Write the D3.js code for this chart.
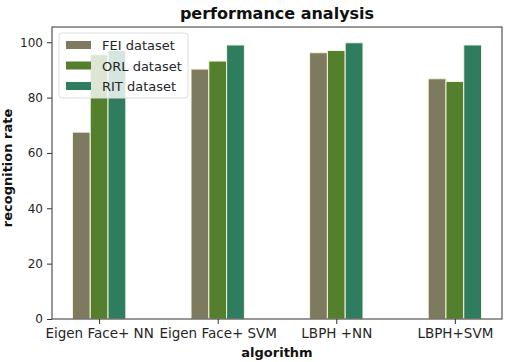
<!DOCTYPE html>
<html>
<head>
<meta charset="utf-8">
<script src="https://cdn.jsdelivr.net/npm/d3@7"></script>
<style>
body { margin: 0; background: #fff; }
text { font-family: "DejaVu Sans", sans-serif; }
</style>
</head>
<body>
<div id="chart"></div>
<script>
// chart data
var algorithms = ["Eigen Face+ NN", "Eigen Face+ SVM", "LBPH +NN", "LBPH+SVM"];
var seriesNames = ["FEI dataset", "ORL dataset", "RIT dataset"];
var feiValues = [67.5, 90.3, 96.2, 86.8];
var orlValues = [95.5, 93.2, 97.0, 85.8];
var ritValues = [97.0, 99.0, 99.8, 99.0];
var yTicks = [0, 20, 40, 60, 80, 100];
var colors = ["#7e7a5f", "#547f2c", "#2e7d5f"];

var W = 507, H = 362;
var margin = {left: 52, right: 5, top: 27, bottom: 43};

var svg = d3.select("#chart").append("svg").attr("width", W).attr("height", H);

var x = d3.scaleLinear().domain([-0.3975, 3.3975]).range([margin.left, W - margin.right]);
var y = d3.scaleLinear().domain([0, 105.5]).range([H - margin.bottom, margin.top]);

var barW = 0.15;
var series = [feiValues, orlValues, ritValues];

// bars
series.forEach(function(vals, s) {
	svg.append("g").selectAll("rect").data(vals).enter().append("rect")
		.attr("x", function(d, i) { return x(i + (s - 1) * barW - barW / 2); })
		.attr("width", x(barW) - x(0))
		.attr("y", function(d) { return y(d); })
		.attr("height", function(d) { return y(0) - y(d); })
		.attr("fill", colors[s])
		.attr("stroke", "#f4f4dc")
		.attr("stroke-width", 1);
});

// axes
var yAxis = d3.axisLeft(y).tickValues(yTicks).tickSize(5).tickPadding(4);
var gy = svg.append("g").attr("transform", "translate(" + margin.left + ",0)").call(yAxis);
var xAxis = d3.axisBottom(x).tickValues([0, 1, 2, 3]).tickFormat(function(d) { return algorithms[d]; }).tickSize(5).tickPadding(4);
var gx = svg.append("g").attr("transform", "translate(0," + (H - margin.bottom) + ")").call(xAxis);
[gx, gy].forEach(function(g) {
	g.select(".domain").remove();
	g.selectAll("text").attr("font-size", 12).attr("fill", "#262626").style("font-family", "DejaVu Sans");
	g.selectAll("line").attr("stroke", "#333");
});
gx.selectAll("text").attr("font-size", 13.5);

// frame
svg.append("rect")
	.attr("x", margin.left).attr("y", margin.top)
	.attr("width", W - margin.left - margin.right)
	.attr("height", H - margin.top - margin.bottom)
	.attr("fill", "none").attr("stroke", "#333").attr("stroke-width", 1);

// titles
svg.append("text").attr("x", (margin.left + W - margin.right) / 2).attr("y", 19)
	.attr("text-anchor", "middle").attr("font-size", 16).attr("font-weight", "bold")
	.attr("fill", "#111").text("performance analysis");
svg.append("text").attr("x", (margin.left + W - margin.right) / 2).attr("y", 357)
	.attr("text-anchor", "middle").attr("font-size", 13).attr("font-weight", "bold")
	.attr("fill", "#111").text("algorithm");
svg.append("text").attr("transform", "translate(12," + ((margin.top + H - margin.bottom) / 2 - 5) + ") rotate(-90)")
	.attr("text-anchor", "middle").attr("font-size", 13).attr("font-weight", "bold")
	.attr("fill", "#111").text("recognition rate");

// legend
var lg = svg.append("g").attr("transform", "translate(59,33)");
lg.append("rect").attr("width", 129).attr("height", 65).attr("rx", 3)
	.attr("fill", "#fff").attr("fill-opacity", 0.8).attr("stroke", "#ddd");
seriesNames.forEach(function(name, i) {
	lg.append("rect").attr("x", 7).attr("y", 8 + i * 20.5).attr("width", 25).attr("height", 8).attr("fill", colors[i]);
	lg.append("text").attr("x", 43).attr("y", 17 + i * 20.5).attr("font-size", 13).attr("fill", "#262626").text(name);
});
</script>
</body>
</html>
